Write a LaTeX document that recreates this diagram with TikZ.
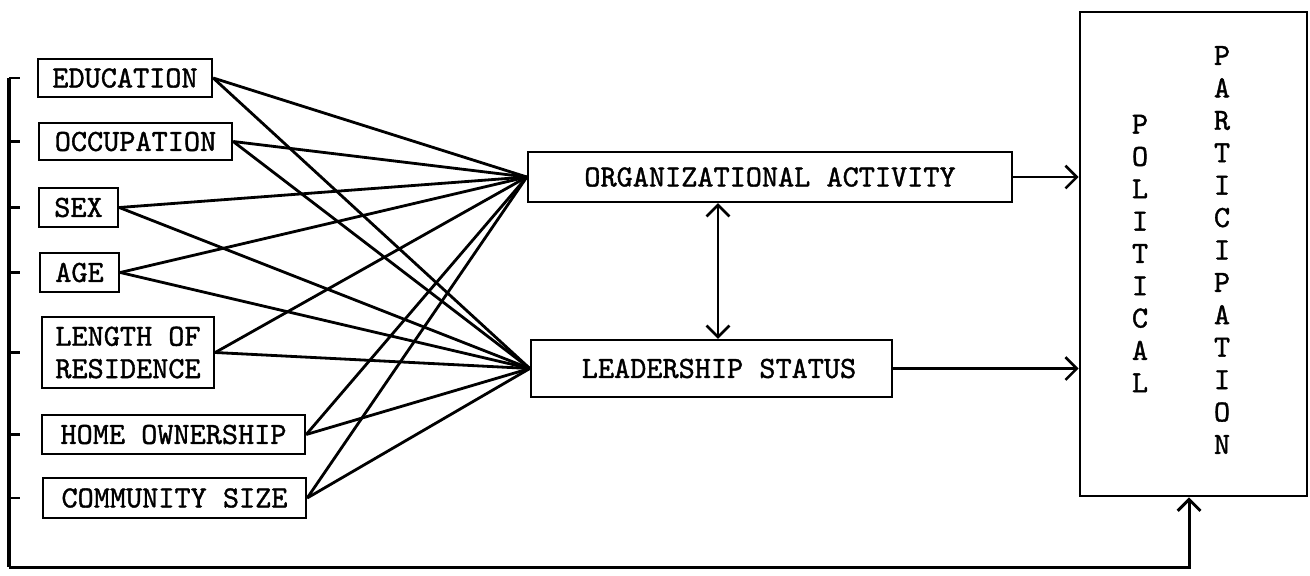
\documentclass[tikz,border=0pt]{standalone}
\usepackage{fontspec}
\newfontfamily\typer{lmmono10-regular.otf}[FakeBold=1.2]
\usetikzlibrary{arrows.meta}
\begin{document}
\begin{tikzpicture}[x=0.02cm,y=-0.02cm,
  txt/.style={font=\typer\fontsize{17.5}{18.4}\selectfont},
  box/.style={txt, draw, line width=1.4pt, inner sep=0pt, align=center},
  link/.style={line width=1.6pt},
  barb/.style={Straight Barb[length=6.5pt,width=13pt]},
  arr/.style={line width=1.5pt, -{Straight Barb[length=6.5pt,width=13pt]}},
  railline/.style={line width=2.2pt},
  tick/.style={line width=1.3pt}]
  \fill[white] (0,0) rectangle (1310,575);
  \useasboundingbox (0,0) rectangle (1310,575);

  % background variables
  \node[box, minimum width=3.48cm, minimum height=0.76cm] (edu)  at (125,78)    {EDUCATION};
  \node[box, minimum width=3.86cm, minimum height=0.74cm] (occ)  at (135.5,141.5) {OCCUPATION};
  \node[box, minimum width=1.58cm, minimum height=0.78cm] (sex)  at (78.5,207.5) {SEX};
  \node[box, minimum width=1.58cm, minimum height=0.78cm] (age)  at (79.5,272.5) {AGE};
  \node[box, minimum width=3.44cm, minimum height=1.42cm] (len)  at (128,352.5)  {LENGTH OF\\RESIDENCE};
  \node[box, minimum width=5.26cm, minimum height=0.78cm] (home) at (173.5,434.5) {HOME OWNERSHIP};
  \node[box, minimum width=5.26cm, minimum height=0.80cm] (comm) at (174.5,498)  {COMMUNITY SIZE};

  % intervening variables
  \node[box, minimum width=9.68cm, minimum height=1.00cm] (oa) at (770,177)   {ORGANIZATIONAL ACTIVITY};
  \node[box, minimum width=7.22cm, minimum height=1.14cm] (ls) at (711.5,368.5) {\hspace*{0.3cm}LEADERSHIP STATUS};

  % dependent variable
  \node[draw, line width=1.5pt, minimum width=4.54cm, minimum height=9.68cm, inner sep=0pt] (pp) at (1193.5,254) {};
  \node[txt, align=center, inner sep=0pt] (pol) at (1140,253.5) {P\\O\\L\\I\\T\\I\\C\\A\\L};
  \node[txt, align=center, inner sep=0pt, font=\typer\fontsize{17.5}{18.45}\selectfont] (par) at (1222,250) {P\\A\\R\\T\\I\\C\\I\\P\\A\\T\\I\\O\\N};

  % paths from each background variable to both intervening variables
  \foreach \v in {edu,occ,sex,age,len,home,comm} {
    \draw[link] (\v.east) -- (oa.west);
    \draw[link] (\v.east) -- (ls.west);
  }

  % mutual link between the intervening variables
  \coordinate (mid) at (718,270);
  \draw[line width=1.5pt, {Straight Barb[length=6.5pt,width=13pt]}-{Straight Barb[length=6.5pt,width=13pt]}]
    (mid |- oa.south) -- (mid |- ls.north);

  % effects on participation
  \draw[arr] (oa.east) -- (oa.east -| pp.west);
  \draw[arr] (ls.east) -- (ls.east -| pp.west);

  % bracket grouping the background variables, with its direct path
  \coordinate (rail) at (9,0);
  \coordinate (bk) at (9,567);
  \coordinate (up) at (1189,567);
  \draw[railline] (rail |- edu.west) -- (bk);
  \foreach \v in {edu,occ,sex,age,len,home,comm}
    \draw[tick] (rail |- \v.west) -- ++(11,0);
  \draw[line width=1.7pt, -{Straight Barb[length=6.5pt,width=13pt]}] (bk) -- (up) -- (up |- pp.south);
\end{tikzpicture}
\end{document}
